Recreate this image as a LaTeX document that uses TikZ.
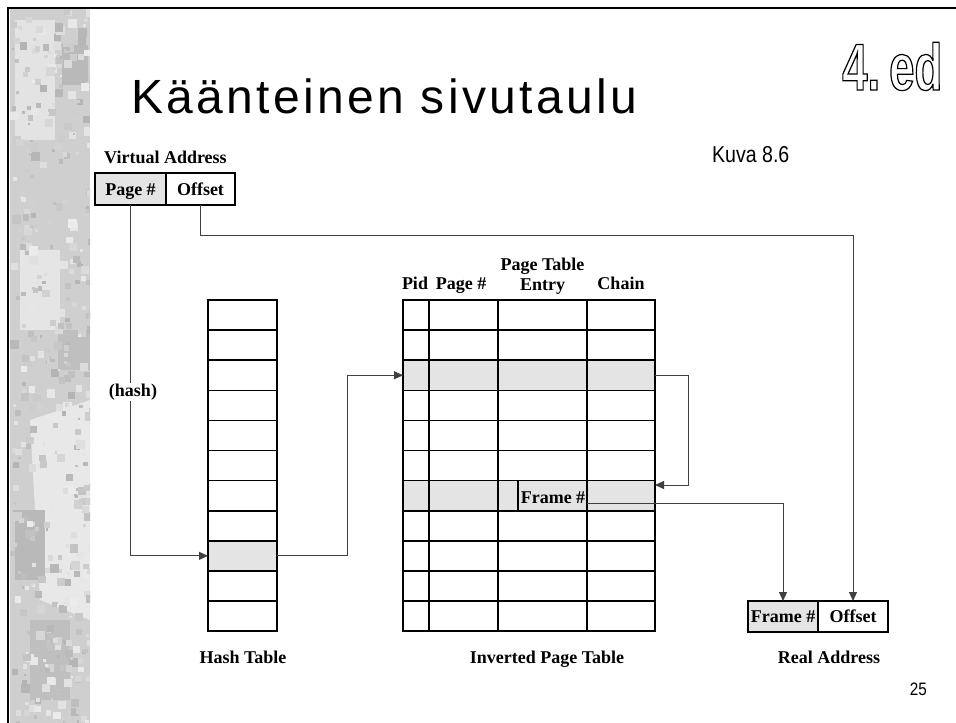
\documentclass[tikz,border=0pt]{standalone}
\usepackage{fontspec}
\setmainfont{Liberation Serif}
\newfontfamily\titlefont[LetterSpace=7]{Liberation Sans}
\newfontfamily\smallsans[FakeStretch=0.85]{Liberation Sans}
\newfontfamily\edfont[FakeStretch=0.69]{Liberation Sans}
\usetikzlibrary{arrows.meta}
\definecolor{hl}{HTML}{E4E4E4}
\newcommand\outlinetext[1]{\special{pdf:literal direct 1 Tr 1.2 w}#1\special{pdf:literal direct 0 Tr}}
\tikzset{
  cell/.style={draw=black, line width=1.6pt, inner sep=0pt, outer sep=0pt},
  conn/.style={draw=black!75, line width=0.9pt},
  arr/.style={conn, -{Triangle[length=9pt,width=8pt]}},
  lbl/.style={font=\fontsize{18}{20}\selectfont\bfseries, inner sep=1pt},
  boxtxt/.style={font=\fontsize{18}{20}\selectfont\bfseries, text height=13pt, text depth=1pt},
}
\begin{document}
\begin{tikzpicture}[x=1pt,y=-1pt]
\useasboundingbox (0,0) rectangle (956,723);
\fill[white] (0,0) rectangle (956,723);
% textured strip
\begin{scope}
\clip (10,8) rectangle (90,723);
\fill[gray!38] (10,8) rectangle (90,723);
\fill[gray!22] (15,20) rectangle (55,140);
\fill[gray!55] (62,45) rectangle (88,85);
\fill[gray!20] (20,250) rectangle (60,330);
\fill[gray!50] (58,330) rectangle (90,370);
\fill[gray!18] (30,420) -- (90,400) -- (90,620) -- (40,600) -- cycle;
\fill[gray!55] (15,510) rectangle (45,580);
\fill[gray!50] (30,620) rectangle (70,700);
\pgfmathsetseed{17}
\foreach \i in {1,...,420}{
  \pgfmathsetmacro\rx{10+80*rnd}
  \pgfmathsetmacro\ry{8+715*rnd}
  \pgfmathsetmacro\rs{2+7*rnd}
  \pgfmathtruncatemacro\rg{15+45*rnd}
  \fill[gray!\rg] (\rx,\ry) rectangle ++(\rs,\rs);
}
\end{scope}
% frame border
\draw[line width=2pt] (8,723) -- (8,8) -- (956,8);
% title
\node[anchor=base west, inner sep=0pt, font=\titlefont\fontsize{48}{52}\selectfont] (title) at (131,113) {Käänteinen sivutaulu};
\node[anchor=base west, inner sep=0pt, font=\smallsans\fontsize{23}{26}\selectfont] (kuva) at (712,162) {Kuva 8.6};
\node[anchor=base west, inner sep=0pt, font=\edfont\bfseries\fontsize{66}{70}\selectfont] (ed) at (842,90) {\outlinetext{4.\kern9pt ed}};
\node[anchor=base east, inner sep=0pt, font=\smallsans\fontsize{18}{20}\selectfont] (pnum) at (927,695) {25};
% virtual address
\node[lbl, anchor=base west] (valbl) at (103,163) {Virtual Address};
\node[cell, boxtxt, fill=hl, minimum width=71pt, minimum height=32pt] (vapage) at (130.5,189) {Page \#};
\node[cell, boxtxt, minimum width=69pt, minimum height=32pt] (vaoff) at (200.5,189) {Offset};
% hash table
\foreach \r in {1,...,11}{
  \pgfmathsetmacro\cy{300+30.1*(\r-1)+15.05}
  \ifnum\r=9 \def\fc{hl}\else\def\fc{white}\fi
  \node[cell, fill=\fc, minimum width=69pt, minimum height=30.1pt] (h\r) at (242.5,\cy) {};
}
% inverted page table
\foreach \r in {1,...,11}{
  \foreach \c/\xa/\xb in {1/403/429,2/429/498,3/498/587,4/587/655}{
    \pgfmathsetmacro\cx{(\xa+\xb)/2}
    \pgfmathsetmacro\cw{\xb-\xa}
    \pgfmathsetmacro\cy{300+30.1*(\r-1)+15.05}
    \pgfmathtruncatemacro\hi{(\r==3)||(\r==7)}
    \ifnum\hi=1 \def\fc{hl}\else\def\fc{white}\fi
    \node[cell, fill=\fc, minimum width=\cw pt, minimum height=30.1pt] (c-\r-\c) at (\cx,\cy) {};
  }
}
\draw[line width=1.6pt] (518,480.6) -- (518,510.7);
\node[lbl, anchor=base] (frame) at (553,503) {Frame \#};
\coordinate (fstart) at (587,503);
% headers
\node[lbl, anchor=base] (hpid) at (415,289) {Pid};
\node[lbl, anchor=base] (hpage) at (461,289) {Page \#};
\node[lbl, anchor=base, align=center] (hpte) at (542.5,290) {Page Table\\Entry};
\node[lbl, anchor=base] (hchain) at (621,289) {Chain};
% real address
\node[cell, boxtxt, fill=hl, minimum width=70pt, minimum height=31pt] (raframe) at (783,616.5) {Frame \#};
\node[cell, boxtxt, minimum width=70pt, minimum height=31pt] (raoff) at (853,616.5) {Offset};
% bottom labels
\node[lbl, anchor=base] (lhash) at (243,663) {Hash Table};
\node[lbl, anchor=base] (lipt) at (547,663) {Inverted Page Table};
\node[lbl, anchor=base] (lreal) at (829,663) {Real Address};
% connectors
\draw[arr] (vapage.south) |- (h9.west);
\node[lbl, fill=white] (hashlbl) at (133,392) {(hash)};
\draw[arr] (h9.east) -- ++(70,0) |- (c-3-1.west);
\coordinate (chainin) at (655,485);
\draw[arr] (c-3-4.east) -- ++(33,0) |- (chainin);
\draw[arr] (fstart) -| (raframe.north);
\draw[arr] (vaoff.south) -- ++(0,30) -| (raoff.north);
\end{tikzpicture}
\end{document}
